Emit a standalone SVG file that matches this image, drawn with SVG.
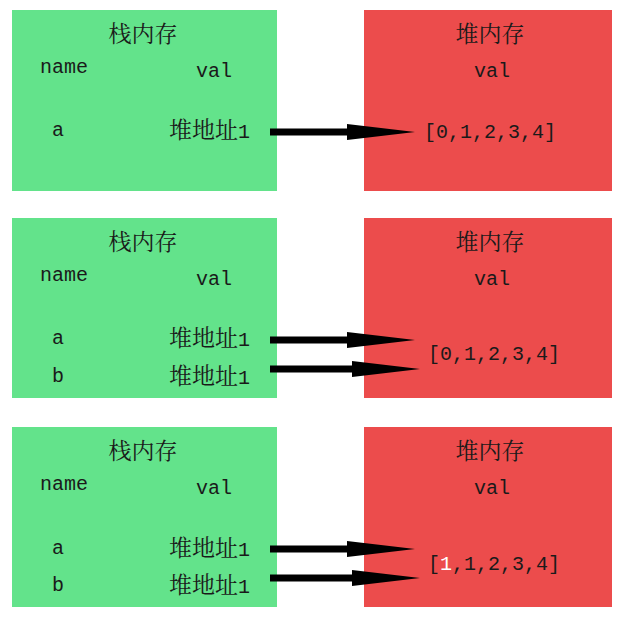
<svg xmlns="http://www.w3.org/2000/svg" width="633" height="620" viewBox="0 0 633 620">
<style>
.stack{fill:#63e38b}
.heap{fill:#ec4c4c}
.cjk{font-family:"Noto Serif CJK SC","Noto Sans CJK SC",serif;font-size:23px;fill:#1a1a1a}
.mono{font-family:"Liberation Mono",monospace;font-size:20px;fill:#1a1a1a}
.arrow{stroke:#000;stroke-width:7;fill:none;marker-end:url(#head)}
</style>
<defs>
<marker id="head" viewBox="0 0 68 16" refX="0" refY="8" markerWidth="68" markerHeight="16" markerUnits="userSpaceOnUse" orient="auto">
<path d="M0,0 L68,8 L0,16 Z" fill="#000"/>
</marker>
</defs>
<rect width="633" height="620" fill="#fff"/>
<g id="stack1">
<rect class="stack" x="12" y="10" width="265" height="181"/>
<text class="cjk" x="143" y="42" text-anchor="middle">栈内存</text>
<text class="mono" x="40" y="73">name</text>
<text class="mono" x="196" y="77">val</text>
<text class="mono" x="52" y="136">a</text>
<text class="cjk" x="169" y="138">堆地址<tspan class="mono">1</tspan></text>
</g>
<g id="heap1">
<rect class="heap" x="364" y="10" width="248" height="181"/>
<text class="cjk" x="490" y="42" text-anchor="middle">堆内存</text>
<text class="mono" x="492" y="77" text-anchor="middle">val</text>
<text class="mono" x="424" y="138">[0,1,2,3,4]</text>
</g>
<g id="stack2">
<rect class="stack" x="12" y="218" width="265" height="180"/>
<text class="cjk" x="143" y="250" text-anchor="middle">栈内存</text>
<text class="mono" x="40" y="281">name</text>
<text class="mono" x="196" y="285">val</text>
<text class="mono" x="52" y="344">a</text>
<text class="cjk" x="169" y="346">堆地址<tspan class="mono">1</tspan></text>
<text class="mono" x="52" y="382">b</text>
<text class="cjk" x="169" y="384">堆地址<tspan class="mono">1</tspan></text>
</g>
<g id="heap2">
<rect class="heap" x="364" y="218" width="248" height="180"/>
<text class="cjk" x="490" y="250" text-anchor="middle">堆内存</text>
<text class="mono" x="492" y="285" text-anchor="middle">val</text>
<text class="mono" x="428" y="360">[0,1,2,3,4]</text>
</g>
<g id="stack3">
<rect class="stack" x="12" y="427" width="265" height="180"/>
<text class="cjk" x="143" y="459" text-anchor="middle">栈内存</text>
<text class="mono" x="40" y="490">name</text>
<text class="mono" x="196" y="494">val</text>
<text class="mono" x="52" y="554">a</text>
<text class="cjk" x="169" y="556">堆地址<tspan class="mono">1</tspan></text>
<text class="mono" x="52" y="591">b</text>
<text class="cjk" x="169" y="593">堆地址<tspan class="mono">1</tspan></text>
</g>
<g id="heap3">
<rect class="heap" x="364" y="427" width="248" height="180"/>
<text class="cjk" x="490" y="459" text-anchor="middle">堆内存</text>
<text class="mono" x="492" y="494" text-anchor="middle">val</text>
<text class="mono" x="428" y="570">[<tspan fill="#fff">1</tspan>,1,2,3,4]</text>
</g>
<g id="connectors">
<line class="arrow" x1="270" y1="132" x2="347" y2="132"/>
<line class="arrow" x1="270" y1="340" x2="347" y2="340"/>
<line class="arrow" x1="270" y1="369" x2="352" y2="369"/>
<line class="arrow" x1="270" y1="549" x2="347" y2="549"/>
<line class="arrow" x1="270" y1="578" x2="352" y2="578"/>
</g>
</svg>
